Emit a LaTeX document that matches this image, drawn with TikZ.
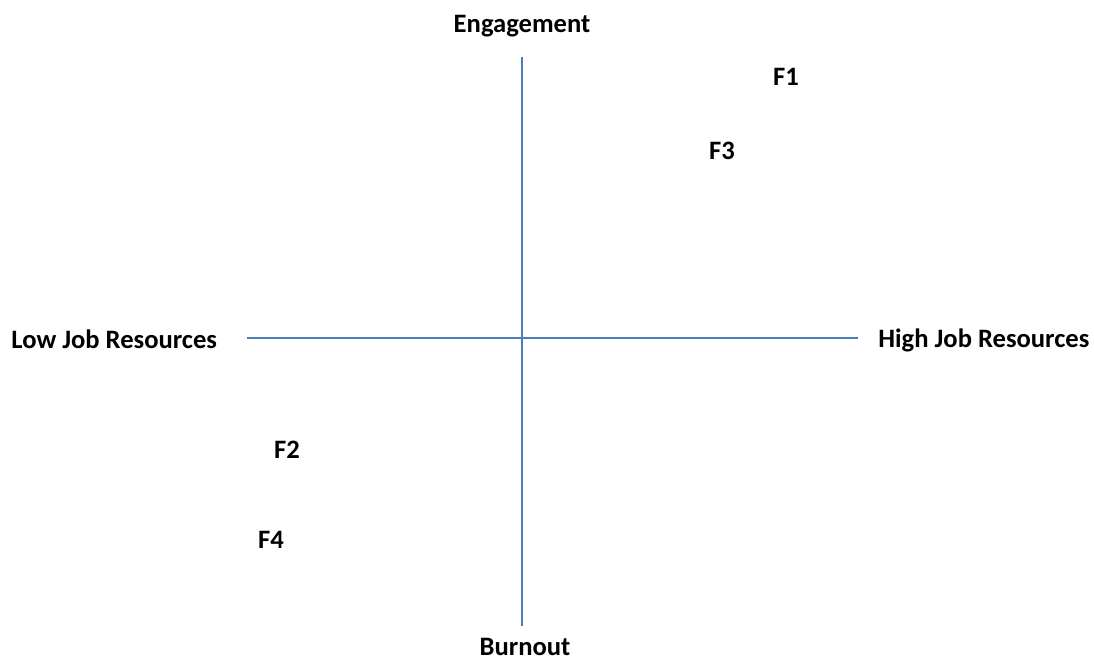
\documentclass[tikz,border=0pt]{standalone}
\usepackage{fontspec}
\setmainfont{Carlito}
\definecolor{axisblue}{RGB}{74,126,187}
\begin{document}
\begin{tikzpicture}
  [x=0.5pt, y=-0.5pt,
   lbl/.style={font=\fontsize{13.3}{15}\selectfont\bfseries, inner sep=0pt, anchor=base},
   axis/.style={draw=axisblue, line width=1pt}]
  \useasboundingbox (0,0) rectangle (1094,662);

  % ends of the two axes
  \coordinate (top)   at (522,57);
  \coordinate (bot)   at (522,626);
  \coordinate (left)  at (247,338);
  \coordinate (right) at (858,338);

  \draw[axis] (top) -- (bot);
  \draw[axis] (left) -- (right);

  \node[lbl] (eng)  at (522,33)  {Engagement};
  \node[lbl] (burn) at (525,656) {Burnout};
  \node[lbl, anchor=base west] (low)  at (11,349)  {Low Job Resources};
  \node[lbl, anchor=base west] (high) at (878,348) {High Job Resources};

  \node[lbl] (f1) at (786,86)  {F1};
  \node[lbl] (f3) at (722,160) {F3};
  \node[lbl] (f2) at (287,459) {F2};
  \node[lbl] (f4) at (271,549) {F4};
\end{tikzpicture}
\end{document}
